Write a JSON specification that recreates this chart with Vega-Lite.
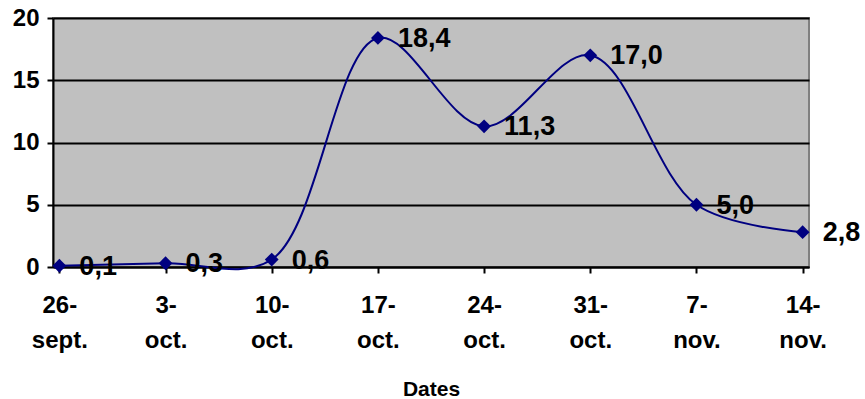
{
  "$schema": "https://vega.github.io/schema/vega-lite/v6.json",
  "autosize": "none",
  "padding": {"left": 53, "top": 18, "right": 56, "bottom": 132},
  "width": 756,
  "height": 249,
  "background": "white",
  "config": {
    "font": "Liberation Sans",
    "view": {"fill": "#C0C0C0", "stroke": "#808080", "strokeWidth": 2}
  },
  "data": {
    "values": [
      {"date": "26-sept.", "value": 0.1, "label": "0,1"},
      {"date": "3-oct.", "value": 0.3, "label": "0,3"},
      {"date": "10-oct.", "value": 0.6, "label": "0,6"},
      {"date": "17-oct.", "value": 18.4, "label": "18,4"},
      {"date": "24-oct.", "value": 11.3, "label": "11,3"},
      {"date": "31-oct.", "value": 17.0, "label": "17,0"},
      {"date": "7-nov.", "value": 5.0, "label": "5,0"},
      {"date": "14-nov.", "value": 2.8, "label": "2,8"}
    ]
  },
  "encoding": {
    "x": {
      "field": "date",
      "type": "ordinal",
      "sort": null,
      "scale": {"type": "point", "padding": 0.06},
      "axis": {
        "title": "Dates",
        "titleFont": "Liberation Sans",
        "titleFontSize": 21,
        "titleFontWeight": "bold",
        "titleColor": "black",
        "titlePadding": 26,
        "labelAngle": 0,
        "labelFont": "Liberation Sans",
        "labelFontSize": 24,
        "labelFontWeight": "bold",
        "labelColor": "black",
        "labelLineHeight": 35,
        "labelPadding": 20,
        "labelExpr": "[split(datum.label, '-')[0] + '-', split(datum.label, '-')[1]]",
        "domainColor": "black",
        "domainWidth": 2,
        "tickColor": "black",
        "tickWidth": 2,
        "tickSize": 6,
        "grid": false
      }
    },
    "y": {
      "field": "value",
      "type": "quantitative",
      "scale": {"domain": [0, 20], "nice": false},
      "axis": {
        "title": null,
        "values": [0, 5, 10, 15, 20],
        "labelFont": "Liberation Sans",
        "labelFontSize": 24,
        "labelFontWeight": "bold",
        "labelColor": "black",
        "labelPadding": 8,
        "domainColor": "black",
        "domainWidth": 2,
        "tickColor": "black",
        "tickWidth": 2,
        "tickSize": 6,
        "grid": true,
        "gridColor": "black",
        "gridWidth": 2,
        "gridOpacity": 1
      }
    }
  },
  "layer": [
    {
      "mark": {"type": "line", "interpolate": "catmull-rom", "color": "#000080", "strokeWidth": 2}
    },
    {
      "mark": {"type": "point", "shape": "diamond", "filled": true, "size": 190, "color": "#000080", "opacity": 1}
    },
    {
      "mark": {"type": "text", "align": "left", "baseline": "middle", "dx": 20, "dy": 1, "fontSize": 27, "fontWeight": "bold", "font": "Liberation Sans", "color": "black"},
      "encoding": {"text": {"field": "label"}}
    }
  ]
}
